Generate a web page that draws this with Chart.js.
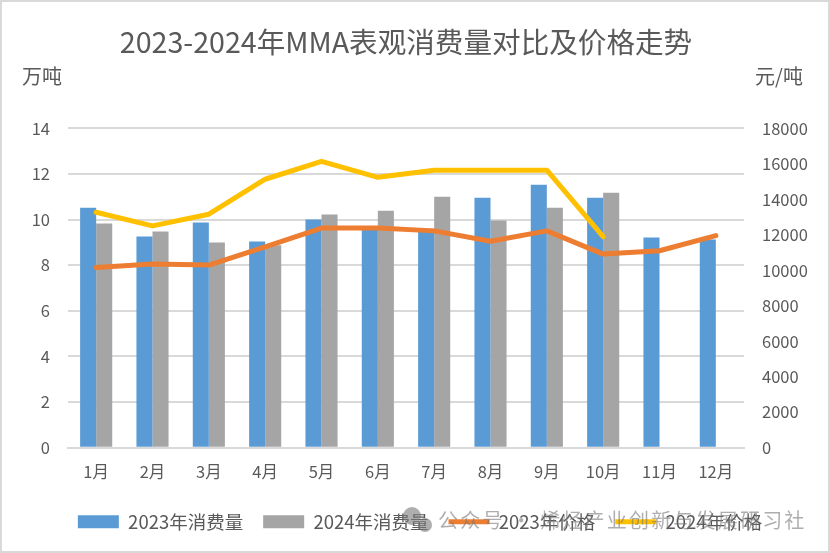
<!DOCTYPE html>
<html>
<head>
<meta charset="utf-8">
<script src="https://cdn.jsdelivr.net/npm/chart.js@4"></script>
<style>
  html, body { margin: 0; padding: 0; background: #fff; }
  #wrap { width: 830px; height: 553px; outline: 2px solid #d9d9d9; outline-offset: -2px; overflow: hidden; }
  canvas { display: block; }
</style>
</head>
<body>
<div id="wrap"><canvas id="chart" width="830" height="553"></canvas></div>
<script>
const months = ["1月","2月","3月","4月","5月","6月","7月","8月","9月","10月","11月","12月"];
const use2023 = [10.52,9.26,9.87,9.04,10.0,9.6,9.6,10.96,11.53,10.96,9.21,9.13];
const use2024 = [9.83,9.48,9.0,8.87,10.22,10.39,11.0,9.96,10.52,11.18,null,null];
const price2023 = [10150,10350,10290,11320,12380,12380,12220,11640,12220,10910,11100,11950];
const price2024 = [13270,12500,13160,15130,16140,15240,15640,15640,15640,11890,null,null];
const legendOrder = ["2023年消费量","2024年消费量","2023年价格","2024年价格"];

const FONT = '"Noto Sans CJK SC", "Noto Sans", sans-serif';
const GREY = "#595959";

// axis units and the faint watermark sit outside what the scales draw
const extraText = {
  id: "extraText",
  afterDraw(c) {
    const ctx = c.ctx;
    ctx.save();
    ctx.textBaseline = "middle";
    ctx.textAlign = "center";
    ctx.fillStyle = GREY;
    ctx.font = "20px " + FONT;
    ctx.fillText("万吨", 42, 76);
    ctx.fillText("元/吨", 779, 76);

    ctx.fillStyle = "rgba(120,120,120,0.6)";
    ctx.beginPath();
    ctx.arc(412, 516, 9, 0, Math.PI * 2);
    ctx.fill();
    ctx.beginPath();
    ctx.arc(425, 525, 7, 0, Math.PI * 2);
    ctx.fill();

    ctx.textAlign = "left";
    ctx.font = "20px " + FONT;
    ctx.letterSpacing = "2.2px";
    ctx.fillText("公众号 · 烯烃产业创新与发展研习社", 438, 520);
    ctx.restore();
  },
};

new Chart(document.getElementById("chart"), {
  data: {
    labels: months,
    datasets: [
      { type: "line", label: "2023年价格", data: price2023, yAxisID: "y2", order: 2,
        borderColor: "#ed7d31", backgroundColor: "#ed7d31", borderWidth: 5, pointRadius: 0,
        borderCapStyle: "round", borderJoinStyle: "round", pointStyle: "line" },
      { type: "line", label: "2024年价格", data: price2024, yAxisID: "y2", order: 1,
        borderColor: "#ffc000", backgroundColor: "#ffc000", borderWidth: 5, pointRadius: 0,
        borderCapStyle: "round", borderJoinStyle: "round", pointStyle: "line" },
      { type: "bar", label: "2023年消费量", data: use2023, yAxisID: "y", order: 3,
        backgroundColor: "#5b9bd5", pointStyle: "rect" },
      { type: "bar", label: "2024年消费量", data: use2024, yAxisID: "y", order: 4,
        backgroundColor: "#a5a5a5", pointStyle: "rect" },
    ],
  },
  options: {
    responsive: false,
    animation: false,
    layout: { padding: { left: 10, right: 0, top: 0, bottom: 12 } },
    datasets: { bar: { barPercentage: 1, categoryPercentage: 0.57 } },
    plugins: {
      title: { display: true, fullSize: false, text: "2023-2024年MMA表观消费量对比及价格走势", color: GREY,
        font: { family: FONT, size: 28.6, weight: "normal" }, padding: { top: 25, bottom: 69 } },
      legend: {
        position: "bottom",
        labels: {
          usePointStyle: true, pointStyleWidth: 41, boxHeight: 13, padding: 20, color: GREY,
          font: { family: FONT, size: 18.5 },
          sort: (a, b) => legendOrder.indexOf(a.text) - legendOrder.indexOf(b.text),
        },
      },
      tooltip: { enabled: false },
    },
    scales: {
      x: {
        afterFit: (s) => { s.height += 5; },
        grid: { display: false },
        border: { color: "#d9d9d9", width: 2 },
        ticks: { color: GREY, font: { family: FONT, size: 16.5 }, padding: 6 },
      },
      y: {
        position: "left", min: 0, max: 14,
        afterFit: (s) => { s.width = 58; },
        ticks: { stepSize: 2, color: GREY, font: { family: FONT, size: 16.5 }, padding: 18 },
        grid: { color: "#d9d9d9", lineWidth: 2, drawTicks: false },
        border: { display: false },
      },
      y2: {
        position: "right", min: 0, max: 18000,
        afterFit: (s) => { s.width = 86; },
        ticks: { stepSize: 2000, color: GREY, font: { family: FONT, size: 16.5 }, padding: 18,
          callback: (v) => String(v) },
        grid: { display: false, drawTicks: false },
        border: { display: false },
      },
    },
  },
  plugins: [extraText],
});
</script>
</body>
</html>
